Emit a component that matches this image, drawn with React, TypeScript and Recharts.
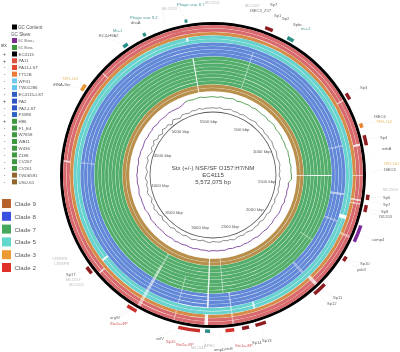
import { Pie, PieChart, PolarAngleAxis, PolarRadiusAxis, Radar, RadarChart } from "recharts";

const GENOME_KBP = 5572;
const WIDTH = 400;
const HEIGHT = 352;
const CX = 213;
const CY = 175;
const FONT = "'Liberation Sans', Arial, sans-serif";

const strainNames = [
  "EC4115", "PA11", "PA11-LST", "TT12B", "WP41", "TW01286", "EC4115-LST", "PA2", "PA2-LST", "F3398",
  "H86", "F1_E4", "W7658", "WA11", "W436", "Z188", "CV267", "CV261", "TW06591", "USU-61",
];
const strainStx = ["+", "+", "-", "-", "-", "-", "-", "+", "-", "-", "+", "-", "-", "-", "-", "-", "-", "-", "-", "-"];
const strainSwatches = [
  "#000000", "#e0503f", "#e2492f", "#ee7a35", "#72c8ea", "#63c6ee", "#2f5fbe", "#3053c4", "#3053c4", "#2f62c6",
  "#3f983f", "#3f983f", "#3f983f", "#3f983f", "#3f983f", "#3f983f", "#3f983f", "#3f983f", "#90662c", "#90662c",
];
const cladeNames = ["Clade 9", "Clade 8", "Clade 7", "Clade 5", "Clade 3", "Clade 2"];
const cladeColors = ["#b5622c", "#3a50e0", "#46a85c", "#62d8cd", "#ee9a32", "#e0302a"];

// one colour per ring, outside to inside (EC4115 black ring is drawn on its own)
const trackColors = [
  "#d8696c", "#d8696c", "#d68c48", "#68d3ce", "#68d3ce", "#6288d8", "#6288d8", "#6288d8", "#6288d8",
  "#54ae6b", "#54ae6b", "#54ae6b", "#54ae6b", "#54ae6b", "#54ae6b", "#54ae6b", "#54ae6b", "#b8904c", "#b8904c",
];

// missing regions: start kbp, length kbp, first ring, last ring, strength
const gapRegions = [
  [279, 5, 6, 16, 0.3],
  [929, 7, 0, 1, 0.6],
  [1192, 8, 5, 8, 0.3],
  [1207, 12, 0, 1, 0.8],
  [1393, 8, 9, 18, 0.9],
  [1393, 6, 0, 2, 0.6],
  [1517, 12, 5, 8, 0.5],
  [1540, 9, 0, 2, 0.7],
  [1563, 7, 0, 2, 0.6],
  [1656, 24, 3, 4, 0.95],
  [1703, 10, 5, 8, 0.3],
  [1765, 12, 0, 2, 0.4],
  [1904, 5, 9, 12, 0.25],
  [2105, 20, 0, 2, 0.7],
  [2120, 14, 5, 8, 0.3],
  [2512, 12, 3, 4, 0.7],
  [2663, 7, 0, 8, 0.4],
  [2709, 5, 9, 18, 0.4],
  [2817, 10, 5, 18, 0.9],
  [2817, 20, 0, 2, 0.9],
  [3018, 5, 0, 2, 0.3],
  [3018, 5, 5, 12, 0.3],
  [3235, 18, 0, 12, 0.55],
  [3235, 12, 13, 16, 0.3],
  [3545, 8, 0, 1, 0.7],
  [3591, 12, 3, 4, 0.9],
  [4257, 9, 0, 1, 0.7],
  [4257, 6, 5, 8, 0.25],
  [4837, 6, 0, 1, 0.5],
  [5400, 13, 3, 3, 0.9],
  [5418, 8, 9, 18, 0.85],
];

// annotated features on the outermost ring: start kbp, length kbp, colour
const featureRegions = [
  [302, 46, "#8e1d22"],
  [440, 40, "#2f8f88"],
  [905, 40, "#8e1d22"],
  [1094, 26, "#e8852f"],
  [1165, 58, "#8e1d22"],
  [1505, 30, "#8e1d22"],
  [1565, 40, "#8e1d22"],
  [1685, 100, "#7b2a9b"],
  [1880, 30, "#8e1d22"],
  [2080, 80, "#8e1d22"],
  [2480, 62, "#8e1d22"],
  [2580, 40, "#8e1d22"],
  [2665, 50, "#d5302c"],
  [2803, 28, "#2f8f88"],
  [2860, 125, "#c9302c"],
  [3240, 60, "#c9302c"],
  [3575, 45, "#8e1d22"],
  [4685, 40, "#e8952f"],
  [5030, 30, "#2f8f88"],
  [5160, 18, "#2f8f88"],
  [5410, 16, "#2f8f88"],
];

const gcContent = [
  51, 49, 53, 48, 50, 54, 49, 51, 47, 52, 50, 48, 51, 54, 49, 50, 52, 47, 51, 49,
  53, 50, 48, 52, 50, 47, 51, 53, 49, 50, 46, 52, 49, 51, 48, 53, 50, 47, 52, 49,
  51, 54, 48, 50, 52, 46, 51, 49, 53, 50, 47, 52, 48, 50, 55, 49, 51, 47, 52, 50,
  48, 53, 50, 46, 51, 49, 54, 50, 47, 52, 49, 51, 45, 53, 50, 48, 52, 44, 51, 49,
  55, 47, 52, 43, 50, 54, 48, 51, 46, 53, 49, 44, 52, 50, 47, 54, 49, 43, 52, 48,
  56, 46, 51, 42, 54, 48, 52, 41, 55, 49, 44, 53, 50, 47, 52, 49, 54, 48, 51, 50,
];
const gcSkew = [
  9, 5, 11, 6, 8, 12, 4, 9, 7, 10, 5, 11, 8, 6, 10, 4, 9, 12, 5, 8,
  10, 6, 9, 4, 11, 7, 8, 5, 10, 6, 9, 11, -8, -5, -10, -6, -9, -4, -11, -7,
  -5, -9, -12, -6, -8, -4, -10, -7, -5, -11, -8, -6, -9, -4, -10, -7, -12, -5, -8, -6,
  -10, -4, -9, -7, -11, -5, -8, -12, -6, -9, -4, -10, -7, -5, -11, -8, -6, -9, -4, -10,
  -12, -5, -8, -7, -10, -4, -9, -11, -6, -8, -5, -10, -7, -12, -4, -9, -6, -11, -8, -5,
  -10, -7, -9, -4, -12, -6, -8, -10, -5, -7, -9, -11, -6, 7, 10, 5, 9, 12, 6, 8,
];

const kbpTicks = [500, 1000, 1500, 2000, 2500, 3000, 3500, 4000, 4500, 5000, 5500];
const titleLines = ["Stx (+/-) NSF/SF O157:H7/NM", "EC4115", "5,572,075 bp"];

const DARK = "#666";
const GREY = "#bcbcbc";
const TEAL = "#4d9a9b";
const ORANGE = "#e8c078";
const RED = "#cf5d59";

// text, label x, label y, colour, kbp the leader points to (0 for none)
const featureLabels: [string, number, number, string, number][] = [
  ["Phage scar 9.2", 130, 17, TEAL, 5170],
  ["dnaA", 131, 22, DARK, 0],
  ["ML1559", 162, 8, GREY, 5300],
  ["Phage scar 8.7", 177, 4, TEAL, 5418],
  ["ML1551", 205, 2.5, GREY, 0],
  ["ML1567", 245, 5, GREY, 250],
  ["ISEC3_257", 250, 10, DARK, 290],
  ["Sp7", 270, 4.5, DARK, 0],
  ["Sp1", 274, 15, DARK, 310],
  ["Sp2", 282, 18, DARK, 330],
  ["Spbc", 293, 24, DARK, 0],
  ["mu-1", 301, 28, TEAL, 460],
  ["Sp3", 360, 87, DARK, 925],
  ["ISEC6", 374, 116, DARK, 1105],
  ["TER-1b2", 376, 121, ORANGE, 1105],
  ["Sp4", 380, 137, DARK, 1190],
  ["wrbA", 382, 148, DARK, 1300],
  ["TER-1b2", 383, 163, ORANGE, 0],
  ["ISEC6", 384, 169, DARK, 1380],
  ["ML1553", 383, 189, GREY, 0],
  ["Sp6", 383, 197, DARK, 1520],
  ["Sp7", 383, 204, DARK, 1540],
  ["Sp8", 381, 211, DARK, 1585],
  ["IS1203", 379, 216, DARK, 1600],
  ["comp4", 372, 239, DARK, 1735],
  ["Sp10", 360, 263, DARK, 1895],
  ["yeb3", 357, 269, DARK, 1900],
  ["Sp11", 333, 297, DARK, 2110],
  ["Sp12", 327, 303, DARK, 2140],
  ["Sp13", 262, 340, DARK, 2500],
  ["Sp14", 252, 342, DARK, 2600],
  ["Stx1a-\u03a6P", 235, 345, RED, 2690],
  ["stcE", 225, 348, DARK, 2750],
  ["ompD", 214, 349, DARK, 0],
  ["APEC", 204, 345, GREY, 2817],
  ["ML1541", 191, 347, GREY, 0],
  ["Stx2a-\u03a6P", 176, 344, RED, 2920],
  ["Sp15", 166, 341, RED, 2960],
  ["selV", 156, 338, DARK, 3000],
  ["argW", 110, 317, DARK, 3270],
  ["Stx2a-\u03a6P", 110, 323, RED, 3270],
  ["Sp17", 66, 274, DARK, 3597],
  ["ML1557", 66, 279, GREY, 0],
  ["ML1562", 69, 284, GREY, 0],
  ["CRISPR", 52, 258, GREY, 0],
  ["CRISPR", 54, 263, GREY, 0],
  ["tRNA-Ser", 53, 84, DARK, 4695],
  ["TER-1b2", 62, 78, ORANGE, 0],
  ["EC4-H9A2", 99, 35, DARK, 5040],
  ["Mu-1", 113, 30, TEAL, 5040],
];

function polar(kbp: number, r: number) {
  const a = (kbp / GENOME_KBP) * 2 * Math.PI;
  return { x: CX + r * Math.sin(a), y: CY - r * Math.cos(a) };
}

function mixWhite(hex: string, amount: number) {
  const n = parseInt(hex.slice(1), 16);
  const ch = (v: number) => Math.round(v + (255 - v) * amount);
  return `rgb(${ch((n >> 16) & 255)},${ch((n >> 8) & 255)},${ch(n & 255)})`;
}

// turn the gap table into consecutive slices for one ring
function trackSlices(track: number, color: string) {
  const gaps = gapRegions.filter((g) => track >= g[2] && track <= g[3]).sort((a, b) => a[0] - b[0]);
  const slices: { value: number; fill: string }[] = [];
  let pos = 0;
  gaps.forEach(([start, len, , , strength]) => {
    if (start < pos) return;
    slices.push({ value: start - pos, fill: color });
    slices.push({ value: len, fill: mixWhite(color, strength) });
    pos = start + len;
  });
  slices.push({ value: GENOME_KBP - pos, fill: color });
  return slices;
}

function featureSlices() {
  const slices: { value: number; fill: string }[] = [];
  let pos = 0;
  featureRegions.forEach(([start, len, color]) => {
    slices.push({ value: (start as number) - pos, fill: "transparent" });
    slices.push({ value: len as number, fill: color as string });
    pos = (start as number) + (len as number);
  });
  slices.push({ value: GENOME_KBP - pos, fill: "transparent" });
  return slices;
}

const contentData = gcContent.map((gc, i) => ({ kbp: i, gc }));
const skewData = gcSkew.map((skew, i) => ({ kbp: i, skew }));

// skew line changes colour with its sign
function SkewShape({ points }: { points?: { x: number; y: number; payload: { skew: number } }[] }) {
  if (!points?.length) return null;
  const segs = points.map((p, i) => {
    const q = points[(i + 1) % points.length];
    return (
      <line
        key={i}
        x1={p.x}
        y1={p.y}
        x2={q.x}
        y2={q.y}
        stroke={p.payload.skew >= 0 ? "#5ea65e" : "#8a58a8"}
        strokeWidth={1}
      />
    );
  });
  return <g>{segs}</g>;
}

const layer: React.CSSProperties = { position: "absolute", left: 0, top: 0 };

function Legend() {
  const rowY = (i: number) => 54 + i * 6.73;
  return (
    <>
      <rect x={12} y={24.5} width={5} height={5} fill="#000" />
      <text x={18} y={29} fontSize={4.6} fill="#555">GC Content</text>
      <text x={11} y={36} fontSize={4.6} fill="#555">GC Skew</text>
      <rect x={12} y={38} width={5} height={5} fill="#7b2a8f" />
      <text x={18} y={42} fontSize={3.4} fill="#666">GC Skew+</text>
      <rect x={12} y={45} width={5} height={5} fill="#3f983f" />
      <text x={18} y={49} fontSize={3.4} fill="#666">GC Skew-</text>
      <text x={1} y={46.5} fontSize={4.6} fill="#444">stx</text>
      {strainNames.map((name, i) => (
        <g key={name}>
          <text x={4.5} y={rowY(i) + 2} fontSize={5} textAnchor="middle" fill="#444">{strainStx[i]}</text>
          <rect x={12} y={rowY(i) - 2.5} width={5} height={5} fill={strainSwatches[i]} />
          <text x={18.5} y={rowY(i) + 1.7} fontSize={4.4} fill="#555">{name}</text>
        </g>
      ))}
      {cladeNames.map((name, i) => (
        <g key={name}>
          <rect x={2} y={199 + i * 12.8} width={9} height={9} fill={cladeColors[i]} />
          <text x={14.5} y={206 + i * 12.8} fontSize={6.2} fill="#555">{name}</text>
        </g>
      ))}
    </>
  );
}

export default function App() {
  const bw = 3.5;
  const outer = 150;
  return (
    <div style={{ ...layer, width: WIDTH, height: HEIGHT, background: "#fff", fontFamily: FONT }}>
      <div style={layer}>
        <PieChart width={WIDTH} height={HEIGHT} margin={{ top: 0, right: 0, bottom: 0, left: 0 }}>
          <Pie
            data={[{ value: 1, fill: "#000" }]}
            dataKey="value"
            cx={CX}
            cy={CY}
            innerRadius={150}
            outerRadius={153}
            startAngle={90}
            endAngle={-270}
            stroke="none"
            isAnimationActive={false}
          />
          <Pie
            data={featureSlices()}
            dataKey="value"
            cx={CX}
            cy={CY}
            innerRadius={154.5}
            outerRadius={158}
            startAngle={90}
            endAngle={-270}
            stroke="none"
            isAnimationActive={false}
          />
          {trackColors.map((color, t) => (
            <Pie
              key={t}
              data={trackSlices(t, color)}
              dataKey="value"
              cx={CX}
              cy={CY}
              innerRadius={outer - (t + 1) * bw + 0.3}
              outerRadius={outer - t * bw}
              startAngle={90}
              endAngle={-270}
              stroke="none"
              isAnimationActive={false}
            />
          ))}
          <Pie
            data={[{ value: 1, fill: "#555" }]}
            dataKey="value"
            cx={CX}
            cy={CY}
            innerRadius={62.6}
            outerRadius={63.4}
            startAngle={90}
            endAngle={-270}
            stroke="none"
            isAnimationActive={false}
          />
        </PieChart>
      </div>
      <div style={layer}>
        <RadarChart width={WIDTH} height={HEIGHT} data={contentData} cx={CX} cy={CY} innerRadius={64} outerRadius={70} margin={{ top: 0, right: 0, bottom: 0, left: 0 }}>
          <PolarAngleAxis dataKey="kbp" tick={false} axisLine={false} tickLine={false} />
          <PolarRadiusAxis domain={[38, 62]} tick={false} axisLine={false} />
          <Radar dataKey="gc" stroke="#444" strokeWidth={0.6} fill="none" isAnimationActive={false} />
        </RadarChart>
      </div>
      <div style={layer}>
        <RadarChart width={WIDTH} height={HEIGHT} data={skewData} cx={CX} cy={CY} innerRadius={74} outerRadius={80} margin={{ top: 0, right: 0, bottom: 0, left: 0 }}>
          <PolarAngleAxis dataKey="kbp" tick={false} axisLine={false} tickLine={false} />
          <PolarRadiusAxis domain={[-20, 20]} tick={false} axisLine={false} />
          <Radar dataKey="skew" shape={(p: any) => <SkewShape points={p.points} />} isAnimationActive={false} />
        </RadarChart>
      </div>
      <svg width={WIDTH} height={HEIGHT} style={{ ...layer, willChange: "transform" }}>
        <Legend />
        {featureLabels.map(([text, x, y, color, kbp], i) => {
          const end = kbp ? polar(kbp, 158) : null;
          return (
            <g key={i}>
              {end && <line x1={x} y1={y} x2={end.x} y2={end.y} stroke="#e4e4e4" strokeWidth={0.3} />}
              <text x={x} y={y + 1.5} fontSize={4.1} fill={color}>{text}</text>
            </g>
          );
        })}
        {kbpTicks.map((kbp) => {
          const p = polar(kbp, 54);
          return (
            <text key={kbp} x={p.x} y={p.y + 1.6} fontSize={4.3} textAnchor="middle" fill="#555">
              {kbp} kbp
            </text>
          );
        })}
        {titleLines.map((line, i) => (
          <text key={line} x={CX} y={169.5 + i * 7.2} fontSize={6.1} textAnchor="middle" fill="#444">
            {line}
          </text>
        ))}
      </svg>
    </div>
  );
}
